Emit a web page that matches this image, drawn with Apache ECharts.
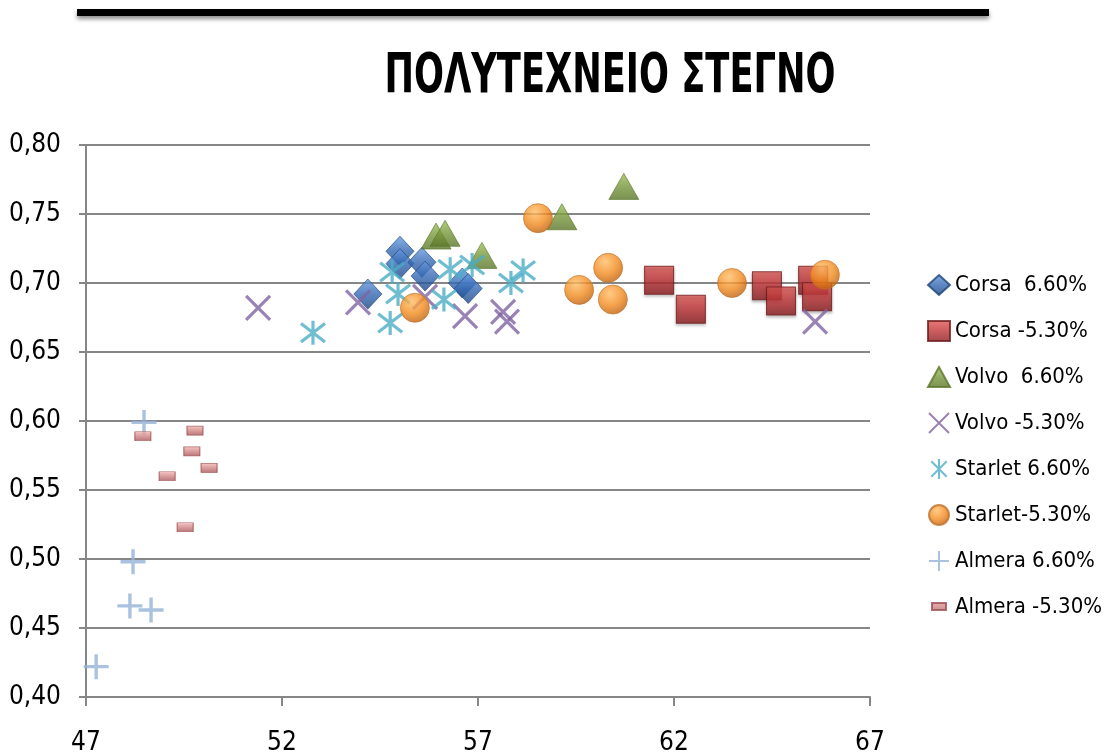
<!DOCTYPE html>
<html>
<head>
<meta charset="utf-8">
<script src="https://cdn.jsdelivr.net/npm/echarts@6/dist/echarts.min.js"></script>
<style>
  html, body { margin: 0; padding: 0; background: #fff; }
  #chart { width: 1115px; height: 756px; }
</style>
</head>
<body>
<div id="chart"></div>
<script>
// Measurements: speed (x) against friction coefficient (y), per car and tyre-pressure deviation
const seriesNames = ['Corsa  6.60%', 'Corsa -5.30%', 'Volvo  6.60%', 'Volvo -5.30%',
                     'Starlet 6.60%', 'Starlet-5.30%', 'Almera 6.60%', 'Almera -5.30%'];

const corsa66X = [54.19, 55.01, 55.01, 55.57, 55.65, 56.60, 56.75];
const corsa66Y = [0.692, 0.723, 0.714, 0.715, 0.705, 0.700, 0.696];

const corsaM53X = [61.62, 62.43, 64.37, 64.73, 65.55, 65.65];
const corsaM53Y = [0.702, 0.681, 0.698, 0.687, 0.702, 0.690];

const volvo66X = [55.93, 56.16, 57.10, 59.14, 60.72];
const volvo66Y = [0.734, 0.736, 0.720, 0.748, 0.770];

const volvoM53X = [51.39, 53.94, 55.65, 56.67, 57.64, 57.74, 65.60];
const volvoM53Y = [0.682, 0.686, 0.690, 0.676, 0.679, 0.672, 0.672];

const starlet66X = [52.79, 54.76, 54.81, 54.96, 56.13, 56.29, 56.85, 57.84, 58.15];
const starlet66Y = [0.664, 0.671, 0.708, 0.692, 0.688, 0.710, 0.713, 0.700, 0.709];

const starletM53X = [55.39, 58.53, 59.58, 60.32, 60.44, 63.48, 65.85];
const starletM53Y = [0.682, 0.747, 0.695, 0.711, 0.688, 0.700, 0.706];

const almera66X = [48.48, 48.20, 48.12, 48.66, 47.26];
const almera66Y = [0.599, 0.498, 0.466, 0.463, 0.422];

const almeraM53X = [48.45, 49.78, 49.70, 50.14, 49.07, 49.53];
const almeraM53Y = [0.589, 0.593, 0.578, 0.566, 0.560, 0.523];

const xTicks = [47, 52, 57, 62, 67];
const yTicks = [0.40, 0.45, 0.50, 0.55, 0.60, 0.65, 0.70, 0.75, 0.80];

const titleText = 'ΠΟΛΥΤΕΧΝΕΙΟ ΣΤΕΓΝΟ';

const zip = (xs, ys) => xs.map((x, i) => [x, ys[i]]);

const FONT = "'DejaVu Sans Condensed', 'Liberation Sans', sans-serif";
const GRID_GREY = '#868686';

const lin = (c0, c1, c2) => new echarts.graphic.LinearGradient(0, 0, 0, 1, [
  { offset: 0, color: c0 }, { offset: 0.5, color: c1 }, { offset: 1, color: c2 }
]);
const rad = (c0, c1, c2) => new echarts.graphic.RadialGradient(0.4, 0.3, 0.75, [
  { offset: 0, color: c0 }, { offset: 0.55, color: c1 }, { offset: 1, color: c2 }
]);

const PATH_X = 'path://M0 0 L10 10 M10 0 L0 10';
const PATH_STAR = 'path://M0 0 L10 10 M10 0 L0 10 M5 -1.5 L5 11.5';
const PATH_PLUS = 'path://M5 0 L5 10 M0 5 L10 5';
// small bar for the legend key, padded so it keeps its size inside the key box
const PATH_SMALL_BAR = 'path://M0 0 M22 20 M4 6 L18 6 L18 13 L4 13 Z';

const series = [
  {
    name: seriesNames[0], data: zip(corsa66X, corsa66Y), symbol: 'diamond', symbolSize: [28, 30],
    itemStyle: { color: lin('#6a9be2', '#3468b3', '#1b4684'), borderColor: '#1d4477', borderWidth: 0.8 }
  },
  {
    name: seriesNames[1], data: zip(corsaM53X, corsaM53Y), symbol: 'rect', symbolSize: [29, 28],
    itemStyle: { color: lin('#e55a56', '#bf3336', '#8a1c1f'), borderColor: '#6e1a1c', borderWidth: 1,
                 shadowColor: 'rgba(0,0,0,0.35)', shadowBlur: 3, shadowOffsetY: 2 }
  },
  {
    name: seriesNames[2], data: zip(volvo66X, volvo66Y), symbol: 'triangle', symbolSize: [30, 26],
    itemStyle: { color: lin('#9cc05a', '#76963a', '#5a7529'), borderColor: '#5a7529', borderWidth: 0.8 }
  },
  {
    name: seriesNames[3], data: zip(volvoM53X, volvoM53Y), symbol: PATH_X, symbolSize: 24,
    itemStyle: { color: '#8064a2', borderColor: '#8064a2', borderWidth: 3.2 }
  },
  {
    name: seriesNames[4], data: zip(starlet66X, starlet66Y), symbol: PATH_STAR, symbolSize: 24,
    itemStyle: { color: '#4bacc6', borderColor: '#4bacc6', borderWidth: 3.2 }
  },
  {
    name: seriesNames[5], data: zip(starletM53X, starletM53Y), symbol: 'circle', symbolSize: 29,
    itemStyle: { color: rad('#ffbe66', '#f28a1e', '#b65c0c'), borderColor: '#c0702a', borderWidth: 0.8 }
  },
  {
    name: seriesNames[6], data: zip(almera66X, almera66Y), symbol: PATH_PLUS, symbolSize: 25,
    itemStyle: { color: '#95b3d7', borderColor: '#95b3d7', borderWidth: 3.4 }
  },
  {
    name: seriesNames[7], data: zip(almeraM53X, almeraM53Y), symbol: 'rect', symbolSize: [16, 9],
    itemStyle: { color: lin('#f3b8b6', '#d08482', '#a5545a'), borderColor: '#9a4c4f', borderWidth: 0.8 }
  }
].map(s => Object.assign({ type: 'scatter' }, s));

const legendData = seriesNames.map((name, i) =>
  i === 7 ? { name: name, icon: PATH_SMALL_BAR } : { name: name });

const chart = echarts.init(document.getElementById('chart'), null, { renderer: 'canvas' });

chart.setOption({
  backgroundColor: '#ffffff',
  animation: false,
  grid: { left: 86, right: 245, top: 145, bottom: 57, containLabel: false },
  xAxis: {
    type: 'value', min: 47, max: 67,
    axisLine: { show: true, onZero: false, lineStyle: { color: GRID_GREY, width: 2 } },
    axisTick: { show: true, length: 9, customValues: xTicks, lineStyle: { color: GRID_GREY, width: 2 } },
    axisLabel: { customValues: xTicks, margin: 33, color: '#000', fontSize: 26, fontFamily: FONT },
    splitLine: { show: false }
  },
  yAxis: {
    type: 'value', min: 0.40, max: 0.80,
    axisLine: { show: true, onZero: false, lineStyle: { color: GRID_GREY, width: 2 } },
    axisTick: { show: true, length: 7, customValues: yTicks, lineStyle: { color: GRID_GREY, width: 2 } },
    axisLabel: {
      customValues: yTicks, margin: 25, color: '#000', fontSize: 26, fontFamily: FONT,
      formatter: v => v.toFixed(2).replace('.', ',')
    },
    splitLine: { show: true, lineStyle: { color: GRID_GREY, width: 2 } }
  },
  legend: {
    orient: 'vertical', left: 922, top: 268,
    itemWidth: 22, itemHeight: 20, itemGap: 22,
    textStyle: { color: '#000', fontSize: 22, lineHeight: 24, fontFamily: FONT },
    data: legendData
  },
  graphic: [
    // heavy rule across the top with a soft grey shadow
    {
      type: 'rect', shape: { x: 77, y: 9, width: 912, height: 7 },
      style: { fill: '#000', shadowColor: 'rgba(0,0,0,0.45)', shadowBlur: 4, shadowOffsetY: 3 }
    },
    {
      type: 'text', x: 610, y: 78, scaleX: 0.74, scaleY: 1.04,
      style: {
        text: titleText, fill: '#000', textAlign: 'center', textVerticalAlign: 'middle',
        font: "bold 53px 'DejaVu Sans Condensed', sans-serif"
      }
    }
  ],
  series: series
});
</script>
</body>
</html>
